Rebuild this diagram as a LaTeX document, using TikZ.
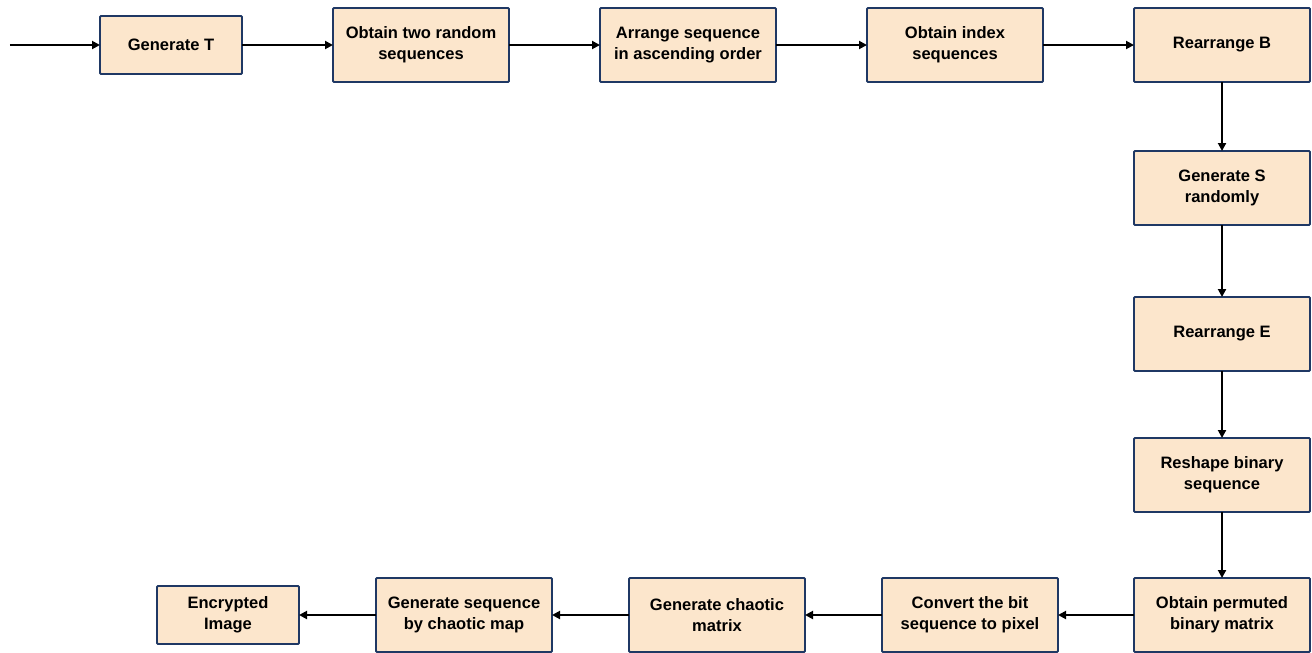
\documentclass[tikz,border=0pt]{standalone}
\usepackage{fontspec}
\setmainfont{Liberation Sans}
\usepackage{xcolor}
\usetikzlibrary{shapes,arrows.meta,positioning,fit,calc}

\definecolor{boxfill}{HTML}{FCE6CC}
\definecolor{boxline}{HTML}{1F3864}

\begin{document}
\begin{tikzpicture}[font=\fontsize{9.4}{12}\selectfont\bfseries, >={Triangle[length=1.6mm,width=1.6mm]}, line width=1.1pt]
    \useasboundingbox (0,0) rectangle (26.24,-13.04);
    \tikzset{stepbox/.style={rectangle, draw=boxline, fill=boxfill, rounded corners=0.6pt, outer sep=0pt, align=center, minimum width=3.52cm, minimum height=1.48cm},
             endbox/.style={stepbox, minimum width=2.84cm, minimum height=1.16cm}}

    % top row
    \node (gent) [endbox] at (3.42,-0.9) {Generate T};
    \node (obtain) [stepbox, right=1.82cm of gent] {Obtain two random\\sequences};
    \node (arrange) [stepbox, right=1.82cm of obtain] {Arrange sequence\\in ascending order};
    \node (index) [stepbox, right=1.82cm of arrange] {Obtain index\\sequences};
    \node (rearb) [stepbox, right=1.82cm of index] {Rearrange B};

    % right column
    \node (gens) [stepbox, below=1.38cm of rearb] {Generate S\\randomly};
    \node (reare) [stepbox, below=1.44cm of gens] {Rearrange E};
    \node (reshape) [stepbox, below=1.34cm of reare] {Reshape binary\\sequence};
    \node (permuted) [stepbox, below=1.32cm of reshape] {Obtain permuted\\binary matrix};

    % bottom row
    \node (convert) [stepbox, left=1.52cm of permuted] {Convert the bit\\sequence to pixel};
    \node (matrix) [stepbox, left=1.54cm of convert] {Generate chaotic\\matrix};
    \node (chaomap) [stepbox, left=1.54cm of matrix] {Generate sequence\\by chaotic map};
    \node (encrypted) [endbox, left=1.54cm of chaomap] {Encrypted\\Image};

    \coordinate (input) at (0.2,-0.9);

    \draw [->] (input) -- (gent);
    \draw [->] (gent) -- (obtain);
    \draw [->] (obtain) -- (arrange);
    \draw [->] (arrange) -- (index);
    \draw [->] (index) -- (rearb);
    \draw [->] (rearb) -- (gens);
    \draw [->] (gens) -- (reare);
    \draw [->] (reare) -- (reshape);
    \draw [->] (reshape) -- (permuted);
    \draw [->] (permuted) -- (convert);
    \draw [->] (convert) -- (matrix);
    \draw [->] (matrix) -- (chaomap);
    \draw [->] (chaomap) -- (encrypted);
\end{tikzpicture}
\end{document}
